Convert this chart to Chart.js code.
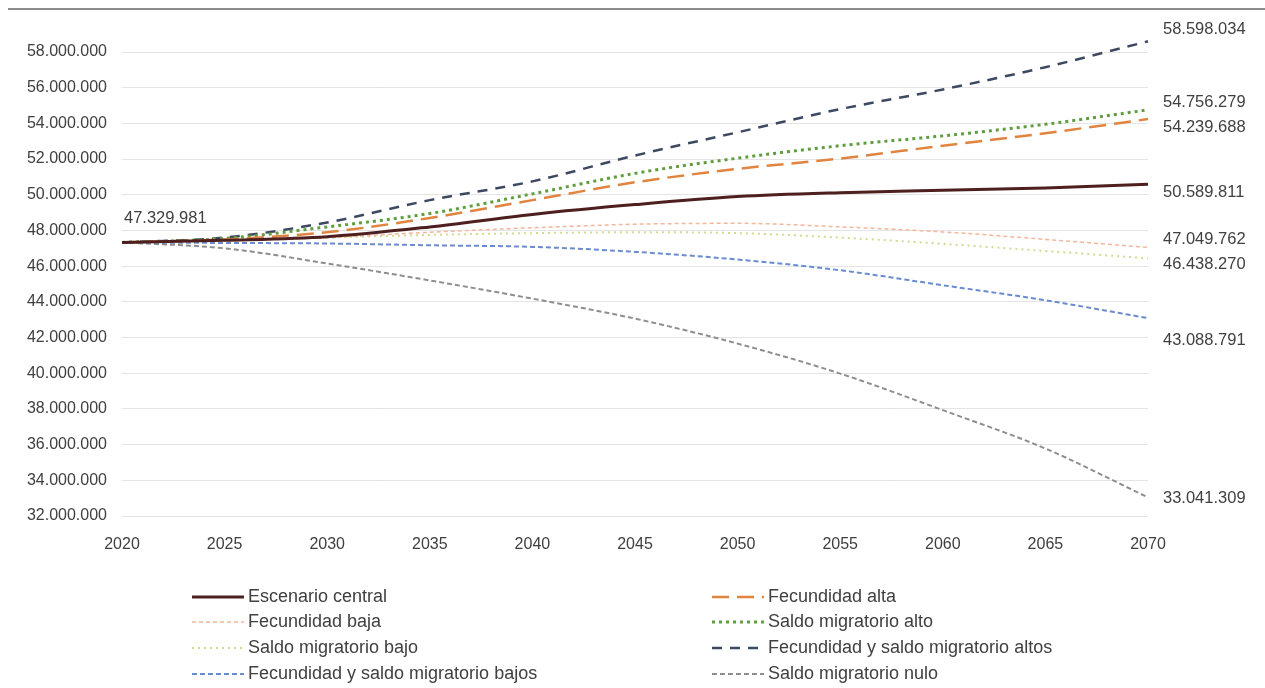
<!DOCTYPE html>
<html>
<head>
<meta charset="utf-8">
<script src="https://cdn.jsdelivr.net/npm/chart.js@4/dist/chart.umd.min.js"></script>
<style>
  body { margin: 0; background: #fff; }
  #wrap { position: relative; width: 1265px; height: 688px; }
  #topline { position: absolute; left: 8px; right: 0; top: 8px; height: 2px; background: #8c8c8c; }
</style>
</head>
<body>
<div id="wrap">
  <div id="topline"></div>
  <canvas id="proyChart" width="1265" height="688"></canvas>
</div>
<script>
// años (cada 5)
var years = ["2020", "2025", "2030", "2035", "2040", "2045", "2050", "2055", "2060", "2065", "2070"];

var central    = [47329981, 47450000, 47650000, 48200000, 48900000, 49450000, 49900000, 50120000, 50250000, 50380000, 50589811];
var fecAlta    = [47329981, 47500000, 47900000, 48700000, 49700000, 50700000, 51450000, 52030000, 52750000, 53450000, 54239688];
var fecBaja    = [47329981, 47420000, 47600000, 47900000, 48150000, 48350000, 48400000, 48200000, 47920000, 47500000, 47049762];
var migAlto    = [47329981, 47550000, 48200000, 48950000, 50050000, 51200000, 52050000, 52750000, 53300000, 53950000, 54756279];
var migBajo    = [47329981, 47450000, 47600000, 47750000, 47850000, 47900000, 47850000, 47600000, 47250000, 46850000, 46438270];
var ambosAltos = [47329981, 47600000, 48450000, 49700000, 50750000, 52200000, 53500000, 54800000, 55900000, 57150000, 58598034];
var ambosBajos = [47329981, 47300000, 47270000, 47170000, 47080000, 46800000, 46370000, 45770000, 44930000, 44090000, 43088791];
var migNulo    = [47329981, 47000000, 46150000, 45200000, 44180000, 43060000, 41660000, 39980000, 37930000, 35780000, 33041309];

var seriesNames = ["Escenario central", "Fecundidad alta", "Fecundidad baja", "Saldo migratorio alto",
                   "Saldo migratorio bajo", "Fecundidad y saldo migratorio altos",
                   "Fecundidad y saldo migratorio bajos", "Saldo migratorio nulo"];

var TXT = "#404040";
var FONT = "'Liberation Sans', Arial, sans-serif";

function fmt(v) {
    return String(Math.round(v)).replace(/\B(?=(\d{3})+(?!\d))/g, ".");
}

// etiquetas de valor: primer punto y final de cada serie
var valueLabels = {
    id: "valueLabels",
    afterDatasetsDraw: function(chart) {
        var ctx = chart.ctx;
        var area = chart.chartArea;
        ctx.save();
        ctx.font = "16.5px " + FONT;
        ctx.fillStyle = TXT;
        ctx.textBaseline = "middle";
        ctx.textAlign = "left";
        var p0 = chart.getDatasetMeta(0).data[0];
        ctx.fillText(fmt(chart.data.datasets[0].data[0]), p0.x + 2, p0.y - 24);
        chart.data.datasets.forEach(function(ds, i) {
            var pts = chart.getDatasetMeta(i).data;
            var last = pts[pts.length - 1];
            ctx.fillText(fmt(ds.data[ds.data.length - 1]), area.right + 15, last.y + ds.labelDy);
        });
        ctx.restore();
    }
};

// leyenda en dos columnas
var legend2col = {
    id: "legend2col",
    afterDraw: function(chart) {
        var ctx = chart.ctx;
        var colX = [248, 768];
        var rowY = [597, 622, 648, 674];
        ctx.save();
        ctx.font = "18px " + FONT;
        ctx.textBaseline = "middle";
        chart.data.datasets.forEach(function(ds, i) {
            var x = colX[i % 2];
            var y = rowY[Math.floor(i / 2)];
            ctx.strokeStyle = ds.borderColor;
            ctx.lineWidth = ds.borderWidth;
            ctx.setLineDash(ds.borderDash || []);
            ctx.beginPath();
            ctx.moveTo(x - 56, y);
            ctx.lineTo(x - 4, y);
            ctx.stroke();
            ctx.setLineDash([]);
            ctx.fillStyle = TXT;
            ctx.fillText(ds.label, x, y);
        });
        ctx.restore();
    }
};

function mkSet(name, data, color, width, dash, dy) {
    return {
        label: name,
        data: data,
        borderColor: color,
        backgroundColor: color,
        borderWidth: width,
        borderDash: dash,
        pointRadius: 0,
        cubicInterpolationMode: "monotone",
        fill: false,
        clip: false,
        labelDy: dy
    };
}

function pageLoad() {
    var ctx = document.getElementById("proyChart");
    var datasets = [
        mkSet(seriesNames[0], central,    "#4e1f1f", 3,   [],      8),
        mkSet(seriesNames[1], fecAlta,    "#e0843f", 2.5, [17, 8], 8),
        mkSet(seriesNames[2], fecBaja,    "#f4b69c", 1.5, [4, 3],  -8),
        mkSet(seriesNames[3], migAlto,    "#5f9e3f", 3,   [3, 4],  -7),
        mkSet(seriesNames[4], migBajo,    "#d3d98e", 2,   [2, 4],  6),
        mkSet(seriesNames[5], ambosAltos, "#3d4961", 2.5, [10, 8], -12),
        mkSet(seriesNames[6], ambosBajos, "#6a8cce", 2,   [5, 3],  22),
        mkSet(seriesNames[7], migNulo,    "#8e8e8e", 2,   [5, 3],  1)
    ];
    var chart = new Chart(ctx, {
        type: "line",
        data: { labels: years, datasets: datasets },
        options: {
            responsive: false,
            animation: false,
            layout: { padding: { left: 0, right: 117, top: 52, bottom: 122 } },
            plugins: {
                legend: { display: false },
                tooltip: { enabled: false }
            },
            scales: {
                x: {
                    grid: { display: false },
                    border: { display: false },
                    ticks: { color: TXT, font: { size: 16, family: FONT }, padding: 11, maxRotation: 0 },
                    afterFit: function(scale) { scale.height = 50; }
                },
                y: {
                    min: 32000000,
                    max: 58000000,
                    grid: { color: "#e4e4e4", lineWidth: 1, drawTicks: false },
                    border: { display: false },
                    ticks: {
                        stepSize: 2000000,
                        maxTicksLimit: 30,
                        color: TXT,
                        font: { size: 16, family: FONT },
                        padding: 15,
                        callback: function(v) { return fmt(v); }
                    },
                    afterFit: function(scale) { scale.width = 122; }
                }
            }
        },
        plugins: [valueLabels, legend2col]
    });
}

window.onload = pageLoad;
</script>
</body>
</html>
